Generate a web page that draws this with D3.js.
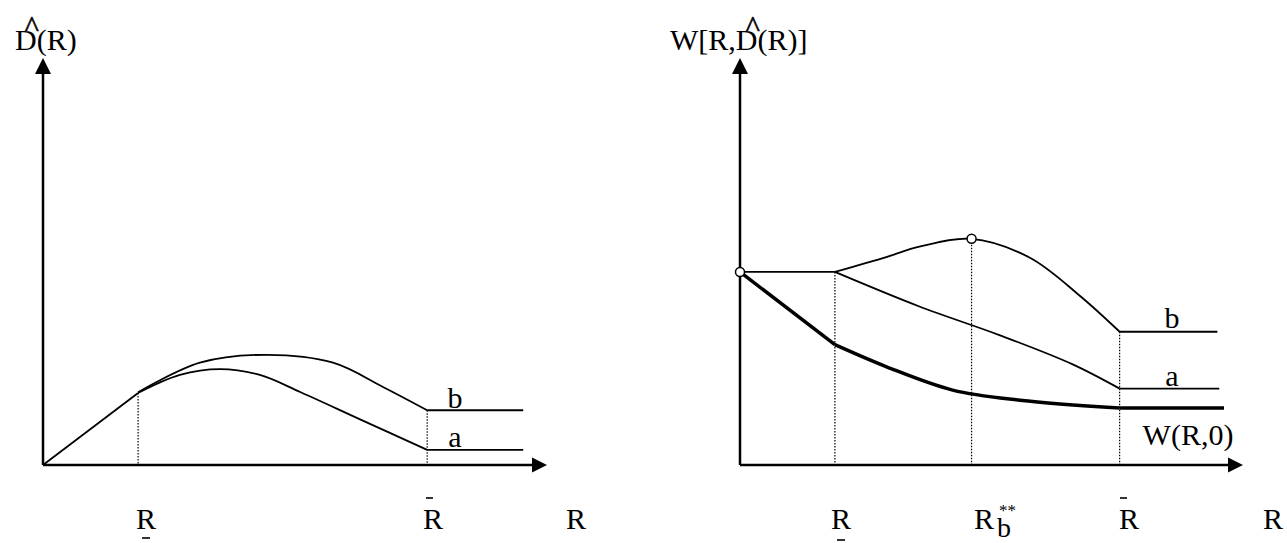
<!DOCTYPE html>
<html>
<head>
<meta charset="utf-8">
<script src="https://cdn.jsdelivr.net/npm/d3@7"></script>
<style>
  body { margin: 0; background: #fff; }
  text { font-family: "Liberation Serif", "Times New Roman", serif; fill: #000; }
</style>
</head>
<body>
<div id="chart"></div>
<script>
// left panel: D^(R)
const leftRise = [[0, 0], [1, 1]];
const leftCurveA = [[1, 1], [1.44, 1.25], [1.86, 1.33], [2.28, 1.25], [2.71, 1.01], [3.34, 0.63], [4.04, 0.21]];
const leftCurveB = [[1, 1.01], [1.65, 1.42], [2.36, 1.53], [3.05, 1.42], [3.58, 1.08], [4.04, 0.76]];
const leftFlatA = [[4.04, 0.21], [5.05, 0.21]];
const leftFlatB = [[4.04, 0.76], [5.05, 0.76]];
const leftGuides = [[1, 1], [4.04, 0.76]];

// right panel: W[R, D^(R)]
const rightFlat = [[0, 2.68], [1, 2.68]];
const rightCurveB = [[1, 2.68], [1.55, 2.89], [1.89, 3.03], [2.44, 3.14], [3.05, 2.88], [3.58, 2.35], [4, 1.85]];
const rightCurveA = [[1, 2.68], [1.89, 2.2], [2.74, 1.8], [3.5, 1.4], [4, 1.06]];
const wZeroStart = [[0, 2.68], [1, 1.67]];
const wZeroCurve = [[1, 1.67], [1.55, 1.36], [2.24, 1.04], [2.95, 0.9], [4, 0.79]];
const rightFlatB = [[4, 1.85], [5.03, 1.85]];
const rightFlatA = [[4, 1.06], [5.05, 1.06]];
const wZeroFlat = [[4, 0.79], [5.1, 0.79]];
const rightGuides = [[1, 2.68], [2.44, 3.14], [4, 1.85]];
const rightDots = [[0, 2.68], [2.44, 3.14]];

const width = 1287;
const height = 543;

const svg = d3.select('#chart')
    .append('svg')
    .attr('width', width)
    .attr('height', height);

const y = d3.scaleLinear().domain([0, 5.65]).range([465, 58]);
const xL = d3.scaleLinear().domain([0, 5.3]).range([43, 547]);
const xR = d3.scaleLinear().domain([0, 5.3]).range([740, 1243]);

function axes(x) {
    const g = svg.append('g');
    g.append('line')
        .attr('x1', x(0)).attr('y1', y(0))
        .attr('x2', x(5.3) - 12).attr('y2', y(0))
        .attr('stroke', '#000').attr('stroke-width', 2.5);
    g.append('line')
        .attr('x1', x(0)).attr('y1', y(0))
        .attr('x2', x(0)).attr('y2', y(5.65) + 12)
        .attr('stroke', '#000').attr('stroke-width', 2.5);
    // arrow heads
    const tx = x(5.3), ty = y(0);
    g.append('path')
        .attr('d', `M${tx},${ty} L${tx - 15},${ty - 7.5} L${tx - 15},${ty + 7.5} Z`);
    const ax = x(0), ay = y(5.65);
    g.append('path')
        .attr('d', `M${ax},${ay} L${ax - 8},${ay + 16} L${ax + 8},${ay + 16} Z`);
}

const smooth = d3.curveCatmullRom.alpha(0.5);

function curve(x, pts, w, kind) {
    const line = d3.line()
        .x(d => x(d[0]))
        .y(d => y(d[1]))
        .curve(kind || d3.curveLinear);
    svg.append('path')
        .attr('d', line(pts))
        .attr('fill', 'none')
        .attr('stroke', '#000')
        .attr('stroke-width', w)
        .attr('stroke-linejoin', 'round');
}

function guides(x, pts) {
    svg.append('g').selectAll('line')
        .data(pts)
        .join('line')
        .attr('x1', d => x(d[0])).attr('x2', d => x(d[0]))
        .attr('y1', d => y(d[1])).attr('y2', y(0))
        .attr('stroke', '#000')
        .attr('stroke-width', 1.2)
        .attr('stroke-dasharray', '1.5,1.5');
}

function label(x, y0, s, size, anchor) {
    return svg.append('text')
        .attr('x', x).attr('y', y0)
        .attr('font-size', size)
        .attr('text-anchor', anchor || 'middle')
        .text(s);
}

// small bar above / below a letter
function bar(x1, x2, y0) {
    svg.append('line')
        .attr('x1', x1).attr('x2', x2)
        .attr('y1', y0).attr('y2', y0)
        .attr('stroke', '#000').attr('stroke-width', 1.6);
}

// hat centred over the character at index i of a text
function hat(t, i, y0) {
    const node = t.node();
    const x0 = +t.attr('x') + node.getSubStringLength(0, i) + node.getSubStringLength(i, 1) / 2;
    label(x0 + 6, y0, '^', 30)
        .attr('stroke', '#000')
        .attr('stroke-width', 0.6);
}

// ---- left panel
guides(xL, leftGuides);
axes(xL);
curve(xL, leftRise, 1.8);
curve(xL, leftCurveA, 1.8, smooth);
curve(xL, leftCurveB, 1.8, smooth);
curve(xL, leftFlatA, 1.8);
curve(xL, leftFlatB, 1.8);

const tl = label(15, 50, 'D(R)', 30, 'start');
hat(tl, 0, 37);
label(455, 408, 'b', 30);
label(455, 447, 'a', 30);

label(146, 529, 'R', 30);
bar(142, 150, 538);
label(433, 529, 'R', 30);
bar(426, 433, 498);
label(576, 529, 'R', 30);

// ---- right panel
guides(xR, rightGuides);
axes(xR);
curve(xR, rightFlat, 1.8);
curve(xR, rightCurveB, 1.8, smooth);
curve(xR, rightCurveA, 1.8, smooth);
curve(xR, rightFlatB, 1.8);
curve(xR, rightFlatA, 1.8);
curve(xR, wZeroStart, 3.5);
curve(xR, wZeroCurve, 3.5, smooth);
curve(xR, wZeroFlat, 3.5);

svg.append('g').selectAll('circle')
    .data(rightDots)
    .join('circle')
    .attr('cx', d => xR(d[0]))
    .attr('cy', d => y(d[1]))
    .attr('r', 4.5)
    .attr('fill', '#fff')
    .attr('stroke', '#000')
    .attr('stroke-width', 1.5);

const tr = label(670, 50, 'W[R,D(R)]', 30, 'start');
hat(tr, 4, 37);
label(1172, 328, 'b', 30);
label(1172, 386, 'a', 30);
label(1188, 445, 'W(R,0)', 30);

label(841, 529, 'R', 30);
bar(837, 845, 540);
label(984, 529, 'R', 30);
label(997, 537, 'b', 28, 'start');
label(999, 516, '**', 17, 'start');
label(1129, 529, 'R', 30);
bar(1120, 1127, 498);
label(1273, 529, 'R', 30);
</script>
</body>
</html>
